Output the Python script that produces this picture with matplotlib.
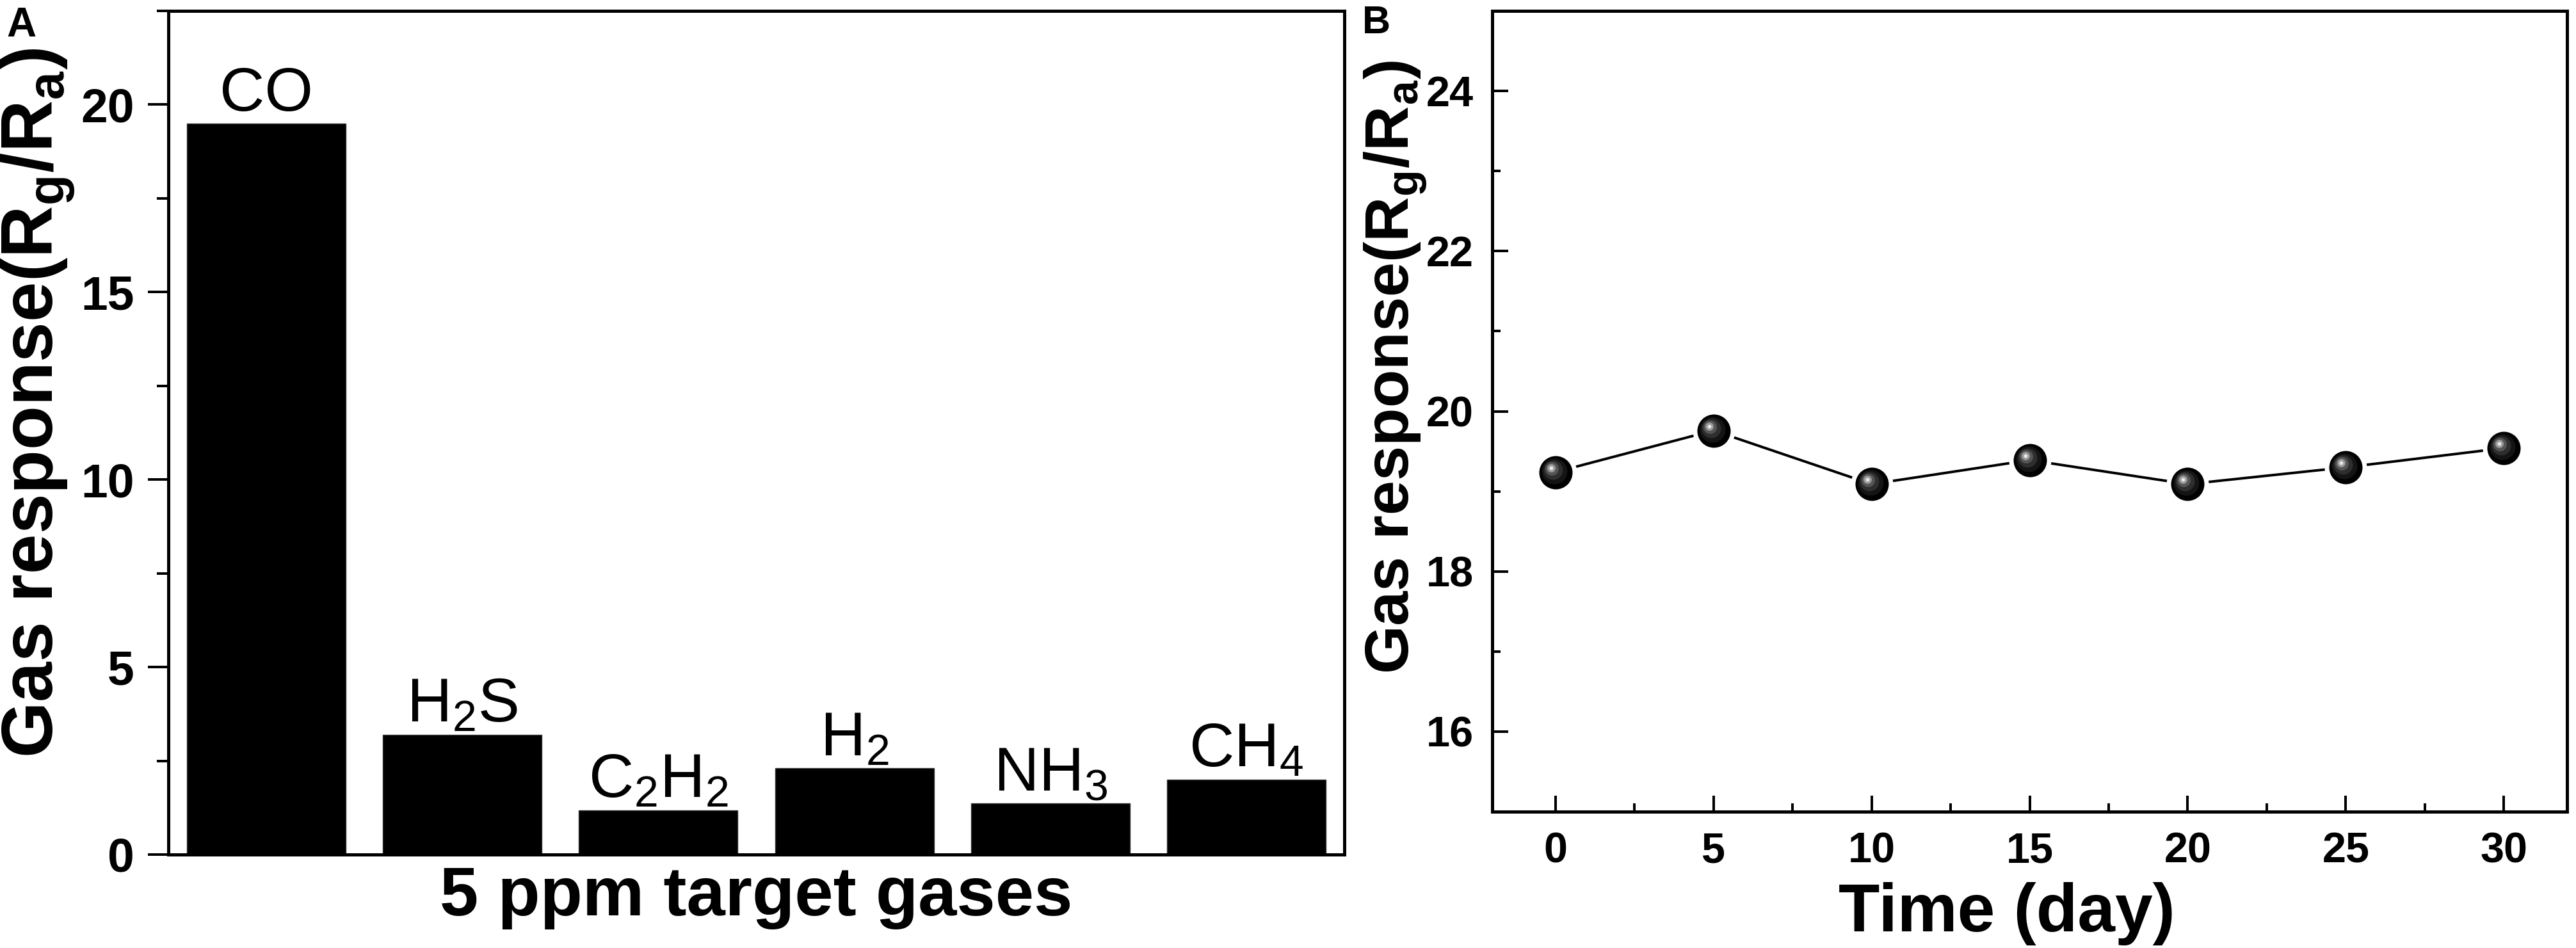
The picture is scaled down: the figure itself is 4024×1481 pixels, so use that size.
import numpy as np
import matplotlib
matplotlib.use("Agg")
import matplotlib.pyplot as plt
from matplotlib.ticker import MultipleLocator
from matplotlib.transforms import offset_copy

plt.rcParams['font.family'] = ['Liberation Sans', 'DejaVu Sans']
plt.rcParams['mathtext.default'] = 'regular'

# panel A: response to 5 ppm of each gas
gases = ['CO', 'H$_2$S', 'C$_2$H$_2$', 'H$_2$', 'NH$_3$', 'CH$_4$']
response = [19.5, 3.2, 1.18, 2.3, 1.36, 2.0]

# panel B: stability over 30 days
days = [0, 5, 10, 15, 20, 25, 30]
stability = [19.24, 19.76, 19.09, 19.39, 19.09, 19.30, 19.54]

W, H = 4024, 1481
fig = plt.figure(figsize=(W / 100, H / 100), dpi=100)
px = 72 / 100  # one pixel in points

# ---------------- A ----------------
axA = fig.add_axes([263 / W, (H - 1335) / H, 1837 / W, 1318 / H])
x = np.arange(len(gases))
axA.bar(x, response, width=0.81, color='black', edgecolor='#333333', linewidth=1)
for xi, yi, lab in zip(x, response, gases):
    axA.text(xi, yi, lab, ha='center', va='bottom', fontsize=70)
axA.set_xlim(-0.5, len(gases) - 0.5)
axA.set_ylim(0, 22.5)
axA.set_xticks([])
axA.yaxis.set_major_locator(MultipleLocator(5))
axA.yaxis.set_minor_locator(MultipleLocator(2.5))
axA.tick_params(axis='y', which='major', direction='out', length=32 * px, width=4 * px,
                pad=21 * px, labelsize=54)
axA.tick_params(axis='y', which='minor', direction='out', length=18 * px, width=4 * px)
for lbl in axA.get_yticklabels():
    lbl.set_fontweight('bold')
axA.set_ylabel('Gas response(R$_g$/R$_a$)', fontsize=81, fontweight='bold')
axA.yaxis.set_label_coords(-0.078, 0.535)
axA.set_xlabel('5 ppm target gases', fontsize=78, fontweight='bold')
axA.xaxis.set_label_coords(0.5, -0.013)
for sp in axA.spines.values():
    sp.set_linewidth(5 * px)

# ---------------- B ----------------
axB = fig.add_axes([2331 / W, (H - 1268) / H, 1679 / W, 1251 / H])
axB.plot(days, stability, color='black', lw=4 * px, zorder=2)
# white halo leaves a small gap between line and balls
axB.plot(days, stability, ls='none', marker='o', ms=66 * px, mfc='white', mec='none', zorder=3)
axB.plot(days, stability, ls='none', marker='o', ms=52 * px, mfc='black', mec='none', zorder=4)
# shaded highlight on each ball
shade = [(40, '#141414', 2), (30, '#2e2e2e', 4), (21, '#555555', 6), (13, '#9a9a9a', 7), (6, '#e8e8e8', 7)]
for size, col, off in shade:
    tr = offset_copy(axB.transData, fig=fig, x=-off, y=off, units='dots')
    axB.plot(days, stability, ls='none', marker='o', ms=size * px, mfc=col, mec='none',
             transform=tr, zorder=5)
axB.set_xlim(-2, 32)
axB.set_ylim(15, 25)
axB.xaxis.set_major_locator(MultipleLocator(5))
axB.xaxis.set_minor_locator(MultipleLocator(2.5))
axB.yaxis.set_major_locator(MultipleLocator(2))
axB.yaxis.set_minor_locator(MultipleLocator(1))
axB.tick_params(axis='both', which='major', direction='in', length=25 * px, width=4 * px,
                labelsize=48)
axB.tick_params(axis='both', which='minor', direction='in', length=13 * px, width=4 * px)
axB.tick_params(axis='x', which='major', pad=32 * px)
axB.tick_params(axis='y', which='major', pad=29 * px)
for lbl in axB.get_xticklabels() + axB.get_yticklabels():
    lbl.set_fontweight('bold')
axB.set_ylabel('Gas response(R$_g$/R$_a$)', fontsize=70, fontweight='bold')
axB.yaxis.set_label_coords(-0.0589, 0.555)
axB.set_xlabel('Time (day)', fontsize=76, fontweight='bold')
axB.xaxis.set_label_coords(0.479, -0.088)
for sp in axB.spines.values():
    sp.set_linewidth(5 * px)

fig.text(10 / W, 1 - 10 / H, 'A', fontsize=46, fontweight='bold', ha='left', va='top')
fig.text(2128 / W, 1 - 8 / H, 'B', fontsize=44, fontweight='bold', ha='left', va='top')

fig.savefig('out.png', dpi=100)
